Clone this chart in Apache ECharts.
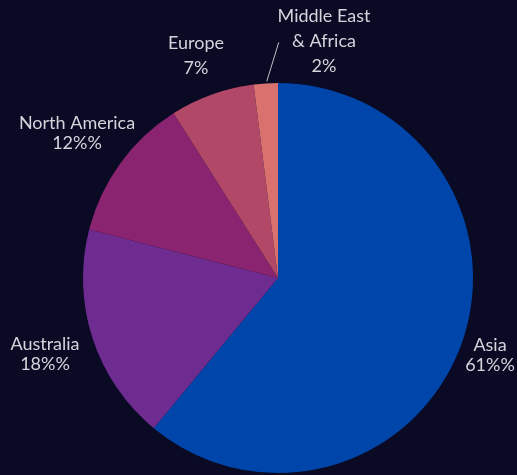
<!DOCTYPE html>
<html>
<head>
<meta charset="utf-8">
<script src="https://cdn.jsdelivr.net/npm/echarts@6/dist/echarts.min.js"></script>
<style>
  html, body { margin: 0; padding: 0; background: #0a0a24; }
  #chart { width: 517px; height: 475px; }
</style>
</head>
<body>
<div id="chart"></div>
<script>
// Regional share, drawn clockwise from 12 o'clock
const regions = ['Asia', 'Australia', 'North America', 'Europe', 'Middle East\n& Africa'];
const shares = [61, 18, 12, 7, 2];
const shareLabels = ['61%%', '18%%', '12%%', '7%', '2%'];
const colors = ['#0046aa', '#6e2c91', '#8b2470', '#b14867', '#d9716f'];

// label placement around the pie: [x, y, lineHeight]
const labelSpots = [
  [490, 355, 20],
  [45, 354, 20],
  [77, 133, 20],
  [196, 56, 25],
  [324, 41, 25]
];

const chart = echarts.init(document.getElementById('chart'));

chart.setOption({
  backgroundColor: '#0a0a24',
  animation: false,
  series: [{
    type: 'pie',
    center: [278, 278],
    radius: 195,
    startAngle: 90,
    clockwise: true,
    avoidLabelOverlap: false,
    data: regions.map((name, i) => ({
      name: name,
      value: shares[i],
      itemStyle: { color: colors[i] },
      label: { lineHeight: labelSpots[i][2] },
      labelLine: { show: i === 4 }
    })),
    label: {
      show: true,
      position: 'outside',
      formatter: p => p.name + '\n' + shareLabels[p.dataIndex],
      color: '#d4d4dc',
      fontFamily: 'Lato',
      fontSize: 18,
      align: 'center'
    },
    labelLine: {
      show: false,
      lineStyle: { color: '#c0c0c8', width: 1 }
    },
    labelLayout: function (params) {
      const s = labelSpots[params.dataIndex];
      const out = { x: s[0], y: s[1], align: 'center', verticalAlign: 'middle' };
      if (params.dataIndex === 4 && params.labelLinePoints) {
        const a = params.labelLinePoints[0];
        out.labelLinePoints = [[a[0] + 1, a[1] - 2], [a[0] + 13, a[1] - 41]];
      }
      return out;
    },
    emphasis: { disabled: true }
  }]
});
</script>
</body>
</html>
